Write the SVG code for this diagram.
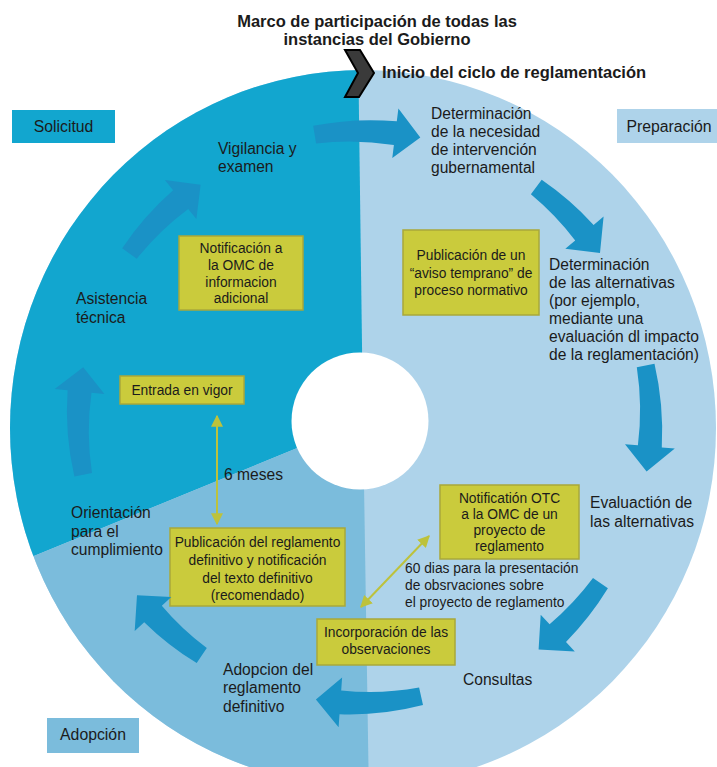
<svg xmlns="http://www.w3.org/2000/svg" width="717" height="767" viewBox="0 0 717 767">
<style>
text{font-family:"Liberation Sans",Arial,sans-serif;fill:#1b1b1b}
.t{font-size:15.6px}
.b{font-size:13.8px;text-anchor:middle}
.s{font-size:13.8px}
.h{font-size:16.5px;font-weight:bold}
.lab{font-size:15.8px;text-anchor:middle}
.ybox{fill:#CACB3C;stroke:#A9A83A;stroke-width:1.5}
.arr{fill:#1A92C6}
.dl{stroke:#BDC23C;stroke-width:2;fill:none;marker-start:url(#ah);marker-end:url(#ah)}
</style>
<defs>
<clipPath id="ring"><ellipse cx="363" cy="428" rx="353" ry="358"/></clipPath>
<marker id="ah" viewBox="0 0 10 10" refX="9" refY="5" markerWidth="6" markerHeight="6" orient="auto-start-reverse"><path d="M0,0 L10,5 L0,10 Z" fill="#BDC23C"/></marker>
</defs>
<g id="background">
<ellipse cx="363" cy="428" rx="353" ry="358" fill="#AED3EA"/>
<g clip-path="url(#ring)">
<polygon points="358,40 363,421 -290,689 -300,40" fill="#12A6CF"/>
<polygon points="363,421 -290,689 -300,800 369,800" fill="#7BBCDC"/>
</g>
<circle cx="360" cy="421" r="68.5" fill="#FFFFFF"/>
</g>
<g id="title">
<text class="h" x="377" y="27" text-anchor="middle">Marco de participación de todas las</text>
<text class="h" x="377" y="45" text-anchor="middle">instancias del Gobierno</text>
</g>
<g id="start">
<polygon points="345,50 360,50 374,73 359,97 345,97 358,73" fill="#3A3A3A" stroke="#000" stroke-width="2" stroke-linejoin="miter"/>
<text class="h" x="382" y="78">Inicio del ciclo de reglamentación</text>
</g>
<g id="solicitud"><rect x="12" y="110" width="103" height="33" fill="#12A6CF"/><text class="lab" x="63.5" y="132">Solicitud</text></g>
<g id="preparacion"><rect x="617" y="109" width="102" height="34" fill="#AED3EA"/><text class="lab" x="669" y="132">Preparación</text></g>
<g id="adopcion"><rect x="47" y="718" width="92" height="35" fill="#7BBCDC"/><text class="lab" x="93" y="740">Adopción</text></g>
<g id="vigilancia"><text class="t" x="218" y="154">Vigilancia y</text><text class="t" x="218" y="172">examen</text></g>
<g id="necesidad"><text class="t" x="431" y="119">Determinación</text><text class="t" x="431" y="137">de la necesidad</text><text class="t" x="431" y="155">de intervención</text><text class="t" x="431" y="173">gubernamental</text></g>
<g id="alternativas"><text class="t" x="549" y="270">Determinación</text><text class="t" x="549" y="288">de las alternativas</text><text class="t" x="549" y="306">(por ejemplo,</text><text class="t" x="549" y="324">mediante una</text><text class="t" x="549" y="342">evaluación dl impacto</text><text class="t" x="549" y="360">de la reglamentación)</text></g>
<g id="evaluacion"><text class="t" x="590" y="508">Evaluactión de</text><text class="t" x="590" y="527">las alternativas</text></g>
<g id="consultas"><text class="t" x="463" y="685">Consultas</text></g>
<g id="adopcion-reglamento"><text class="t" x="223" y="675">Adopcion del</text><text class="t" x="223" y="693">reglamento</text><text class="t" x="223" y="712">definitivo</text></g>
<g id="orientacion"><text class="t" x="71" y="518">Orientación</text><text class="t" x="71" y="537">para el</text><text class="t" x="71" y="555">cumplimiento</text></g>
<g id="asistencia"><text class="t" x="76" y="304">Asistencia</text><text class="t" x="76" y="323">técnica</text></g>
<g id="notif-adicional"><rect class="ybox" x="179" y="236" width="124" height="74"/><text class="b" x="241" y="253">Notificación a</text><text class="b" x="241" y="270">la OMC de</text><text class="b" x="241" y="287">informacion</text><text class="b" x="241" y="303">adicional</text></g>
<g id="aviso"><rect class="ybox" x="403" y="230" width="136" height="85"/><text class="b" x="471" y="260">Publicación de un</text><text class="b" x="471" y="278">“aviso temprano” de</text><text class="b" x="471" y="295">proceso normativo</text></g>
<g id="vigor"><rect class="ybox" x="120" y="376" width="124" height="28"/><text class="b" x="182" y="395">Entrada en vigor</text></g>
<g id="publicacion"><rect class="ybox" x="170" y="528" width="175" height="78"/><text class="b" x="257.5" y="547">Publicación del reglamento</text><text class="b" x="257.5" y="565">definitivo y notificación</text><text class="b" x="257.5" y="583">del texto definitivo</text><text class="b" x="257.5" y="600">(recomendado)</text></g>
<g id="notif-otc"><rect class="ybox" x="440" y="485" width="139" height="74"/><text class="b" x="509.5" y="503">Notificatión OTC</text><text class="b" x="509.5" y="519">a la OMC de un</text><text class="b" x="509.5" y="535">proyecto de</text><text class="b" x="509.5" y="551">reglamento</text></g>
<g id="incorporacion"><rect class="ybox" x="317" y="619" width="138" height="46"/><text class="b" x="386" y="637">Incorporación de las</text><text class="b" x="386" y="654">observaciones</text></g>
<g id="labels"><text class="t" x="224" y="480">6 meses</text><text class="s" x="405" y="573">60 dias para la presentación</text><text class="s" x="405" y="590">de obsrvaciones sobre</text><text class="s" x="405" y="607">el proyecto de reglamento</text></g>
<g id="connectors">
<path class="arr" d="M313.2,125.7 A300,300 0 0 1 396.8,121.3 L398.4,108.4 L420.3,137.4 L392.3,158 L393.9,145.1 A280,280 0 0 0 316.1,143.5 Z"/>
<path class="arr" d="M541.7,179.8 A303,303 0 0 1 593.6,224.9 L603.6,216.6 L600,252.9 L565.3,248.7 L575.2,240.4 A283,283 0 0 0 530.9,194.2 Z"/>
<path class="arr" d="M654.5,363.8 A301,301 0 0 1 661.8,447.4 L674.8,448.6 L646.6,471.5 L625,444.2 L637.9,445.3 A281,281 0 0 0 636.8,367.2 Z"/>
<path class="arr" d="M607.9,588.2 A300,300 0 0 1 566,641.9 L574.8,651.4 L538.6,649.5 L540.7,614.8 L549.6,624.3 A280,280 0 0 0 593,578.1 Z"/>
<path class="arr" d="M423,705.1 A292,292 0 0 1 339.5,714.3 L338.6,727.3 L315.9,699.5 L342.1,677.4 L341.2,690.4 A272,272 0 0 0 419.1,687.5 Z"/>
<path class="arr" d="M196.7,663.1 A293,293 0 0 1 144.2,622.2 L134.7,631.1 L137,595.2 L171.3,597 L161.8,605.8 A273,273 0 0 0 206.8,648.1 Z"/>
<path class="arr" d="M74.4,476.5 A292,292 0 0 1 67.6,390.3 L54.7,388.9 L83.2,367.2 L104.4,394.1 L91.5,392.8 A272,272 0 0 0 92,473.1 Z"/>
<path class="arr" d="M122.2,248.2 A295,295 0 0 1 173.1,190.2 L164.9,180.1 L200.6,184.7 L196.4,219 L188.2,208.9 A275,275 0 0 0 136.7,258.8 Z"/>
<line class="dl" x1="217" y1="416" x2="217" y2="524"/>
<line class="dl" x1="429" y1="536" x2="361" y2="607"/>
</g>
</svg>
